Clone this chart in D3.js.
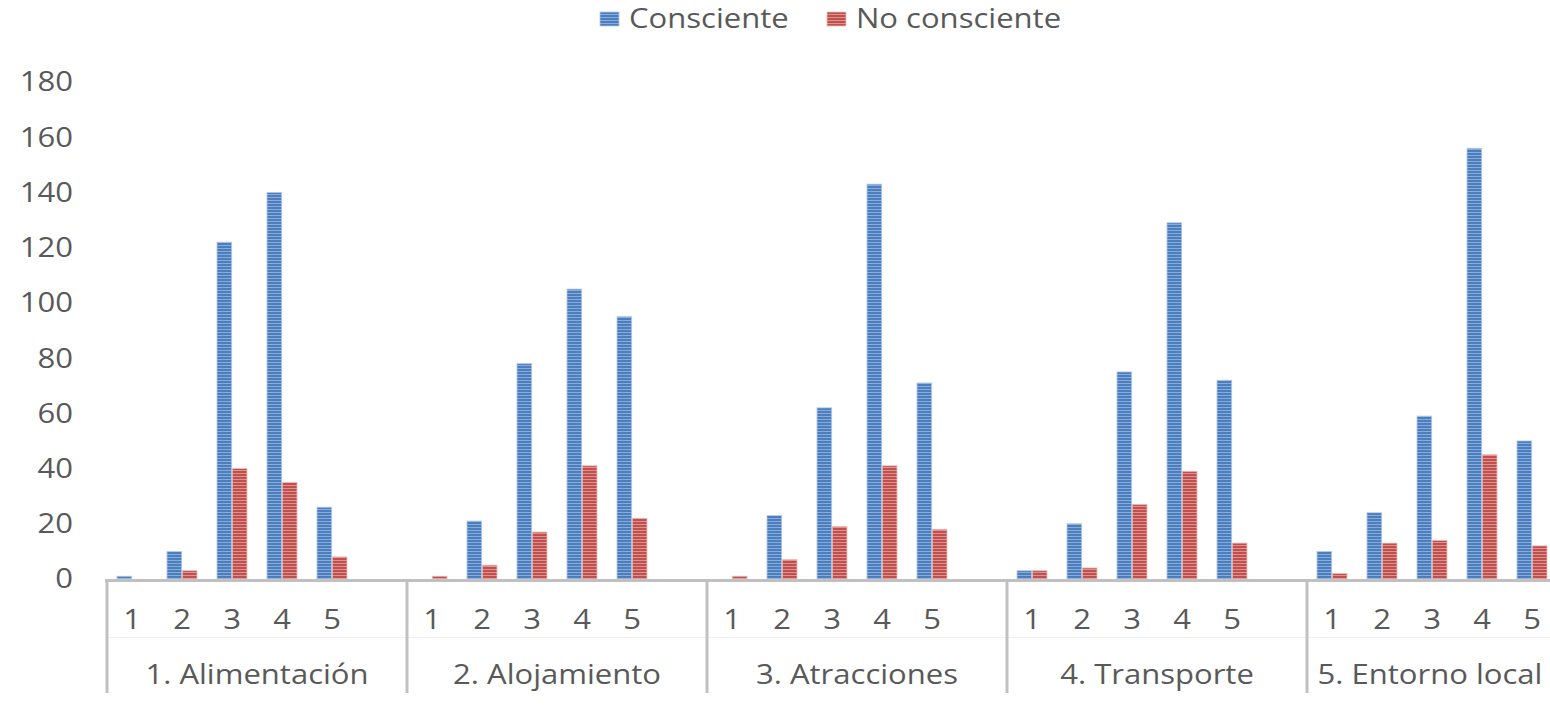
<!DOCTYPE html>
<html>
<head>
<meta charset="utf-8">
<script src="https://cdn.jsdelivr.net/npm/d3@7"></script>
<style>
  html, body { margin: 0; padding: 0; background: #fff; }
  svg { display: block; }
</style>
</head>
<body>
<svg width="1550" height="705"></svg>
<script>
const groups = ["1. Alimentación", "2. Alojamiento", "3. Atracciones", "4. Transporte", "5. Entorno local"];
const levels = ["1", "2", "3", "4", "5"];
const series = ["Consciente", "No consciente"];
const consciente = [
  [1, 10, 122, 140, 26],
  [0, 21, 78, 105, 95],
  [0, 23, 62, 143, 71],
  [3, 20, 75, 129, 72],
  [10, 24, 59, 156, 50],
];
const noConsciente = [
  [0, 3, 40, 35, 8],
  [1, 5, 17, 41, 22],
  [1, 7, 19, 41, 18],
  [3, 4, 27, 39, 13],
  [2, 13, 14, 45, 12],
];
const yTicks = [0, 20, 40, 60, 80, 100, 120, 140, 160, 180];

const svg = d3.select("svg");
const font = "'Open Sans', 'Noto Sans', sans-serif";
const textColor = "#595959";
const axisColor = "#c0c0c0";
const STRETCH = 1.15; // the source text is a bit wider than normal

// each group has 5 categories plus one empty slot
const slots = [];
groups.forEach((g, gi) => {
  levels.forEach((l) => slots.push(`${gi}-${l}`));
  slots.push(`${gi}-gap`);
});

const x = d3.scaleBand().domain(slots).range([107, 1607]).padding(0);
const xSub = d3.scaleBand().domain(series).range([-15, 15]).paddingInner(0.04);
const y = d3.scaleLinear().domain([0, 180]).range([579, 82]);

const rows = [];
groups.forEach((g, gi) => {
  levels.forEach((l, li) => {
    rows.push({ key: `${gi}-${l}`, s: "Consciente", v: consciente[gi][li] });
    rows.push({ key: `${gi}-${l}`, s: "No consciente", v: noConsciente[gi][li] });
  });
});

function place(sel, fx, fy) {
  return sel
    .attr("transform", (d, i) => `translate(${fx(d, i)},${fy(d, i)}) scale(${STRETCH},1)`)
    .attr("dy", "0.35em")
    .attr("font-family", font)
    .attr("font-size", 27)
    .attr("fill", textColor);
}

// striped fills like the original
const defs = svg.append("defs");
const fills = {
  "Consciente": { dark: "#4a7ebf", light: "#8aacd8", edge: "#b3c9e6" },
  "No consciente": { dark: "#c0504d", light: "#dd9491", edge: "#ebbbb9" },
};
Object.entries(fills).forEach(([name, c], i) => {
  const p = defs.append("pattern")
    .attr("id", "stripe" + i)
    .attr("patternUnits", "userSpaceOnUse")
    .attr("width", 8)
    .attr("height", 3);
  p.append("rect").attr("width", 8).attr("height", 3).attr("fill", c.dark);
  p.append("rect").attr("y", 2).attr("width", 8).attr("height", 1).attr("fill", c.light);
  c.id = "url(#stripe" + i + ")";
});

// y axis labels
svg.append("g")
  .selectAll("text")
  .data(yTicks)
  .join("text")
  .call(place, () => 73, (d) => y(d))
  .attr("text-anchor", "end")
  .text((d) => d);

// bars
svg.append("g")
  .selectAll("rect")
  .data(rows.filter((d) => d.v > 0))
  .join("rect")
  .attr("x", (d) => x(d.key) + x.bandwidth() / 2 + xSub(d.s))
  .attr("width", xSub.bandwidth())
  .attr("y", (d) => y(d.v))
  .attr("height", (d) => y(0) - y(d.v))
  .attr("fill", (d) => fills[d.s].id)
  .attr("stroke", (d) => fills[d.s].edge)
  .attr("stroke-width", 0.8);

// category axis
const axisG = svg.append("g");
axisG.append("line")
  .attr("x1", 105).attr("x2", 1550)
  .attr("y1", 580.5).attr("y2", 580.5)
  .attr("stroke", axisColor).attr("stroke-width", 3);
axisG.append("line")
  .attr("x1", 107).attr("x2", 1550)
  .attr("y1", 637.5).attr("y2", 637.5)
  .attr("stroke", "#f0f0f0").attr("stroke-width", 1);

axisG.selectAll("line.div")
  .data(groups)
  .join("line")
  .attr("class", "div")
  .attr("x1", (d, i) => x(`${i}-1`))
  .attr("x2", (d, i) => x(`${i}-1`))
  .attr("y1", 580).attr("y2", 693)
  .attr("stroke", axisColor).attr("stroke-width", 3);

axisG.selectAll("text.lvl")
  .data(slots.filter((s) => !s.endsWith("gap")))
  .join("text")
  .attr("class", "lvl")
  .call(place, (d) => x(d) + x.bandwidth() / 2, () => 620)
  .attr("text-anchor", "middle")
  .text((d) => d.split("-")[1]);

axisG.selectAll("text.grp")
  .data(groups)
  .join("text")
  .attr("class", "grp")
  .call(place, (d, i) => Math.min(x(`${i}-1`) + 3 * x.bandwidth(), 1430), () => 675)
  .attr("text-anchor", "middle")
  .text((d) => d);

// legend
const legend = svg.append("g");
const legendX = [600, 827];
series.forEach((s, i) => {
  legend.append("rect")
    .attr("x", legendX[i]).attr("y", 12)
    .attr("width", 19).attr("height", 14)
    .attr("fill", fills[s].id)
    .attr("stroke", fills[s].edge).attr("stroke-width", 0.8);
  legend.append("text")
    .datum(s)
    .call(place, () => legendX[i] + 29, () => 19)
    .text(s);
});
</script>
</body>
</html>
